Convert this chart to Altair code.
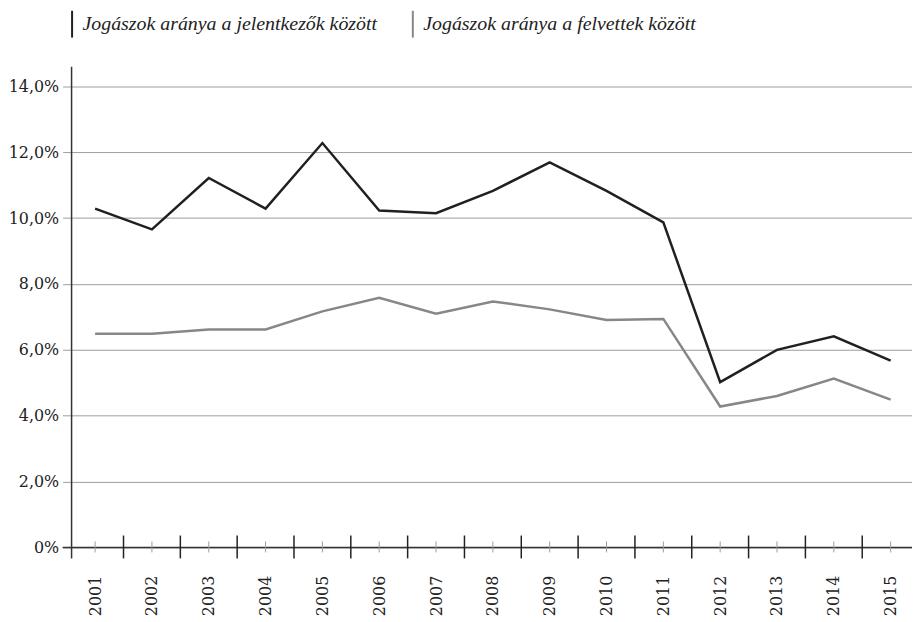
import altair as alt
import pandas as pd

years = list(range(2001, 2016))
jelentkezok = [10.29, 9.66, 11.22, 10.29, 12.28, 10.23, 10.15, 10.83, 11.69, 10.83, 9.87, 5.02, 6.00, 6.41, 5.67]
felvettek = [6.49, 6.49, 6.62, 6.62, 7.17, 7.58, 7.10, 7.47, 7.23, 6.91, 6.94, 4.28, 4.60, 5.13, 4.49]
series_names = ["Jogászok aránya a jelentkezők között", "Jogászok aránya a felvettek között"]
series_colors = ["#231f20", "#878787"]
y_ticks = [0, 2, 4, 6, 8, 10, 12, 14]

W, H = 846, 484

df = pd.DataFrame({
    "year": years * 2,
    "value": jelentkezok + felvettek,
    "series": [series_names[0]] * len(years) + [series_names[1]] * len(years),
})
major_df = pd.DataFrame({"year": [y + 0.5 for y in years[:-1]]})
minor_df = pd.DataFrame({"year": years})
zero_df = pd.DataFrame({"value": [0]})

xscale = alt.Scale(domain=[2000.586, 2015.376], nice=False, zero=False)
yscale = alt.Scale(domain=[0, 14.6], nice=False, zero=True)
SERIF = "DejaVu Serif"

x_axis = alt.Axis(values=years, format="d", labelAngle=270, labelAlign="right",
                  labelBaseline="middle", ticks=False, domain=False, grid=False,
                  labelPadding=28, labelFont=SERIF, labelFontSize=16,
                  labelColor="#222", labelFlush=False, labelOverlap=False)
y_axis = alt.Axis(values=y_ticks, domain=False, grid=True, gridColor="#9c9c9c",
                  gridWidth=1, tickColor="#9c9c9c", tickSize=9, tickWidth=1,
                  labelPadding=4, labelFont=SERIF, labelFontSize=16, labelColor="#222",
                  labelExpr="datum.value == 0 ? '0%' : replace(format(datum.value, '.1f'), '.', ',') + '%'")

X = alt.X("year:Q", scale=xscale, title=None, axis=x_axis)
Y = alt.Y("value:Q", scale=yscale, title=None, axis=y_axis)

lines = alt.Chart(df).mark_line(strokeWidth=2.5, strokeJoin="miter").encode(
    x=X, y=Y,
    color=alt.Color("series:N", sort=series_names,
                    scale=alt.Scale(domain=series_names, range=series_colors),
                    legend=alt.Legend(orient="none", legendX=-9.5, legendY=-53, direction="horizontal",
                                      title=None, symbolType="M0,-3L0,3", symbolSize=81,
                                      symbolStrokeWidth=2, labelFont="Liberation Serif",
                                      labelFontStyle="italic", labelFontSize=20, labelColor="#222",
                                      labelOffset=0.5, columnPadding=25, labelLimit=0)),
)

x_axis_line = alt.Chart(zero_df).mark_rule(color="#333", strokeWidth=1.5).encode(
    y=Y, x=alt.value(-9), x2=alt.value(W),
)
y_axis_line = alt.Chart(zero_df).mark_rule(color="#333", strokeWidth=1.5).encode(
    x=alt.value(0), y=alt.value(0), y2=alt.value(H + 11),
)
major_ticks = alt.Chart(major_df).mark_rule(color="#222", strokeWidth=1.5).encode(
    x=X, y=alt.value(H - 12), y2=alt.value(H + 11),
)
minor_ticks = alt.Chart(minor_df).mark_rule(color="#9c9c9c", strokeWidth=1).encode(
    x=X, y=alt.value(H - 6), y2=alt.value(H + 5),
)

chart = alt.layer(lines, x_axis_line, y_axis_line, major_ticks, minor_ticks).properties(
    width=W, height=H,
    autosize=alt.AutoSizeParams(type="none"),
    padding={"left": 64, "top": 57, "right": 0, "bottom": 72},
    background="white",
).configure_view(stroke=None)

chart.save("out.html", embed_options={"renderer": "svg", "actions": False})
